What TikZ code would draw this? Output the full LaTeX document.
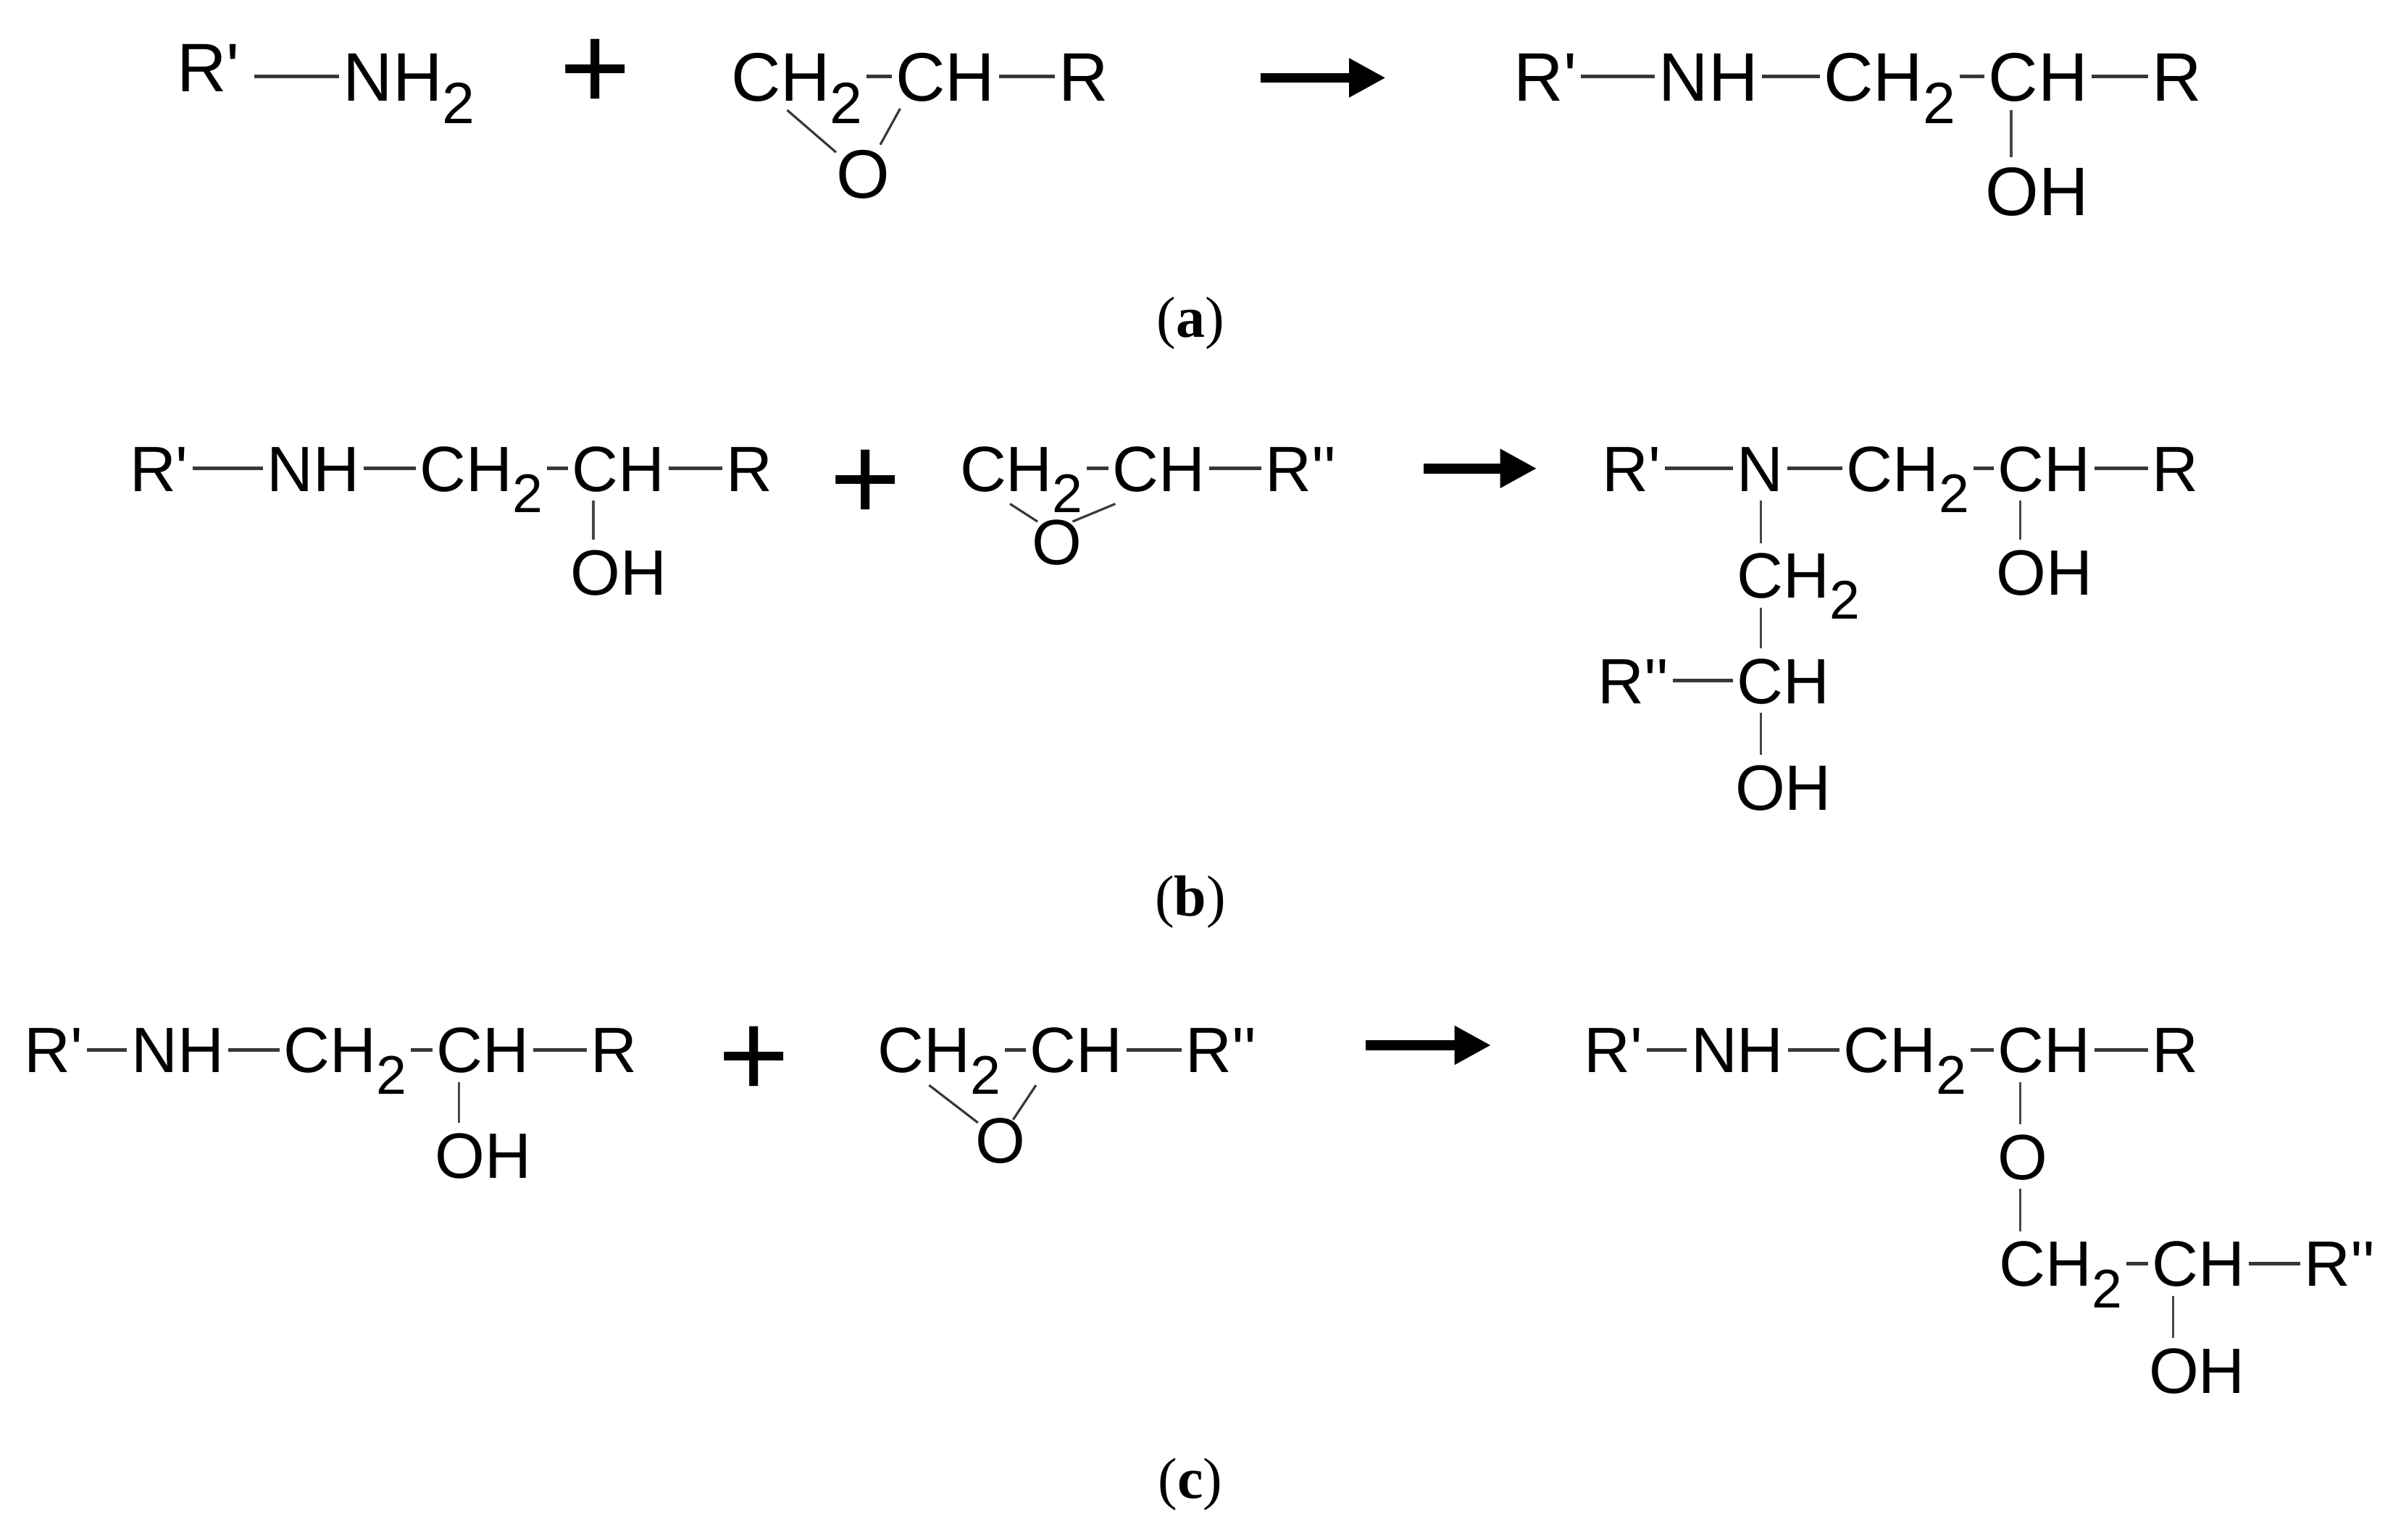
\documentclass[tikz,border=0pt]{standalone}
\usepackage{fontspec}
\usepackage{graphicx}
\usetikzlibrary{arrows.meta}
\newfontfamily\chemfont{Liberation Sans}
\newfontfamily\capfont{Liberation Serif}
\newcommand{\subtwo}{\raisebox{-0.33em}{\scalebox{0.85}[0.85]{2}}}
\tikzset{
  atomA/.style={anchor=base west,xshift=-1.2pt,inner sep=0pt,text height=32pt,text depth=0pt,font=\chemfont\fontsize{45}{50}\selectfont},
  atomB/.style={anchor=base west,xshift=-1.2pt,inner sep=0pt,text height=30pt,text depth=0pt,font=\chemfont\fontsize{42}{48}\selectfont},
  plussign/.style={inner sep=0pt,font=\chemfont\fontsize{80}{86}\selectfont},
  caplabel/.style={inner sep=0pt,font=\capfont\fontsize{38}{42}\selectfont},
  bond/.style={draw=black!78,line width=2.2pt,shorten >=2.5pt,shorten <=2.5pt},
  vbond/.style={draw=black!72,line width=1.6pt,shorten >=6pt,shorten <=6pt},
  ring/.style={draw=black!78,line width=1.5pt},
  rxn/.style={draw=black,line width=6.5pt,-{Triangle[length=24pt,width=24pt]}}
}
\begin{document}
\begin{tikzpicture}[x=1pt,y=-1pt]
\useasboundingbox[fill=white] (0,0) rectangle (1568,1009);
% --- (a)
\node[atomA] (a1) at (117,60) {R'};
\node[atomA] (a2) at (226,66) {NH\subtwo};
\node[plussign] (ap) at (390,49) {+};
\node[atomA] (a3) at (480,66) {CH\subtwo};
\node[atomA] (a4) at (588,66) {CH};
\node[atomA] (a5) at (695,66) {R};
\node[atomA] (a6) at (549,130) {O};
\draw[bond] (a1.east |- a2.west) ++(7pt,0) coordinate (a1b) (a1b) -- (a2.west);
\draw[bond] (a3.east) -- (a4.west);
\draw[bond] (a4.east) -- (a5.west);
\draw[ring] ([xshift=37pt,yshift=-6pt]a3.south west) -- ([xshift=0pt,yshift=-2pt]a6.north west);
\draw[ring] ([xshift=3pt,yshift=-5pt]a4.south west) -- ([xshift=29pt,yshift=3pt]a6.north west);
\coordinate (a7) at (826,51); \coordinate (a8) at (908,51);
\draw[rxn] (a7) -- (a8);
\node[atomA] (p1) at (993,66) {R'};
\node[atomA] (p2) at (1088,66) {NH};
\node[atomA] (p3) at (1196,66) {CH\subtwo};
\node[atomA] (p4) at (1304,66) {CH};
\node[atomA] (p5) at (1411,66) {R};
\node[atomA] (p6) at (1302,141) {OH};
\draw[bond] (p1.east) -- (p2.west);
\draw[bond] (p2.east) -- (p3.west);
\draw[bond] (p3.east) -- (p4.west);
\draw[bond] (p4.east) -- (p5.west);
\draw[vbond] ([xshift=15pt]p4.south west) -- ([xshift=15pt]p4.south west |- p6.north);
\node[caplabel] (capa) at (780,212) {(\textbf{a})};
% --- (b)
\node[atomB] (b1) at (86,322) {R'};
\node[atomB] (b2) at (176,322) {NH};
\node[atomB] (b3) at (276,322) {CH\subtwo};
\node[atomB] (b4) at (376,322) {CH};
\node[atomB] (b5) at (477,322) {R};
\node[atomB] (b6) at (375,390) {OH};
\draw[bond] (b1.east) -- (b2.west);
\draw[bond] (b2.east) -- (b3.west);
\draw[bond] (b3.east) -- (b4.west);
\draw[bond] (b4.east) -- (b5.west);
\draw[vbond] ([xshift=14pt]b4.south west) -- ([xshift=14pt]b4.south west |- b6.north);
\node[plussign] (bp) at (567,318) {+};
\node[atomB] (b7) at (630,322) {CH\subtwo};
\node[atomB] (b8) at (730,322) {CH};
\node[atomB] (b9) at (830,322) {R''};
\node[atomB] (b10) at (677,370) {O};
\draw[bond] (b7.east) -- (b8.west);
\draw[bond] (b8.east) -- (b9.west);
\draw[ring] ([xshift=33pt,yshift=-8pt]b7.south west) -- ([xshift=4pt,yshift=-2pt]b10.north west);
\draw[ring] ([xshift=2pt,yshift=-8pt]b8.south west) -- ([xshift=27pt,yshift=-2pt]b10.north west);
\coordinate (b11) at (933,307); \coordinate (b12) at (1007,307);
\draw[rxn] (b11) -- (b12);
\node[atomB] (q1) at (1051,322) {R'};
\node[atomB] (q2) at (1139,322) {N};
\node[atomB] (q3) at (1211,322) {CH\subtwo};
\node[atomB] (q4) at (1310,322) {CH};
\node[atomB] (q5) at (1411,322) {R};
\node[atomB] (q6) at (1309,390) {OH};
\node[atomB] (q7) at (1139,392) {CH\subtwo};
\node[atomB] (q8) at (1139,461) {CH};
\node[atomB] (q9) at (1048,461) {R''};
\node[atomB] (q10) at (1138,531) {OH};
\draw[bond] (q1.east) -- (q2.west);
\draw[bond] (q2.east) -- (q3.west);
\draw[bond] (q3.east) -- (q4.west);
\draw[bond] (q4.east) -- (q5.west);
\draw[vbond] ([xshift=15pt]q4.south west) -- ([xshift=15pt]q4.south west |- q6.north);
\draw[vbond] ([xshift=16pt]q2.south west) -- ([xshift=16pt]q2.south west |- q7.north);
\draw[vbond] ([xshift=16pt]q7.south west) -- ([xshift=16pt]q7.south west |- q8.north);
\draw[vbond] ([xshift=16pt]q8.south west) -- ([xshift=16pt]q8.south west |- q10.north);
\draw[bond] (q9.east) -- (q8.west);
\node[caplabel] (capb) at (780,591) {(\textbf{b})};
% --- (c)
\node[atomB] (c1) at (17,703) {R'};
\node[atomB] (c2) at (87,703) {NH};
\node[atomB] (c3) at (187,703) {CH\subtwo};
\node[atomB] (c4) at (287,703) {CH};
\node[atomB] (c5) at (388,703) {R};
\node[atomB] (c6) at (286,772) {OH};
\draw[bond] (c1.east) -- (c2.west);
\draw[bond] (c2.east) -- (c3.west);
\draw[bond] (c3.east) -- (c4.west);
\draw[bond] (c4.east) -- (c5.west);
\draw[vbond] ([xshift=15pt]c4.south west) -- ([xshift=15pt]c4.south west |- c6.north);
\node[plussign] (cp) at (494,696) {+};
\node[atomB] (c7) at (576,703) {CH\subtwo};
\node[atomB] (c8) at (676,703) {CH};
\node[atomB] (c9) at (778,703) {R''};
\node[atomB] (c10) at (640,762) {O};
\draw[bond] (c7.east) -- (c8.west);
\draw[bond] (c8.east) -- (c9.west);
\draw[ring] ([xshift=34pt,yshift=-8pt]c7.south west) -- ([xshift=2pt,yshift=-4pt]c10.north west);
\draw[ring] ([xshift=4pt,yshift=-8pt]c8.south west) -- ([xshift=25pt,yshift=-2pt]c10.north west);
\coordinate (c11) at (895,685); \coordinate (c12) at (977,685);
\draw[rxn] (c11) -- (c12);
\node[atomB] (r1) at (1039,703) {R'};
\node[atomB] (r2) at (1109,703) {NH};
\node[atomB] (r3) at (1209,703) {CH\subtwo};
\node[atomB] (r4) at (1310,703) {CH};
\node[atomB] (r5) at (1411,703) {R};
\node[atomB] (r6) at (1310,773) {O};
\node[atomB] (r7) at (1311,843) {CH\subtwo};
\node[atomB] (r8) at (1411,843) {CH};
\node[atomB] (r9) at (1511,843) {R''};
\node[atomB] (r10) at (1409,913) {OH};
\draw[bond] (r1.east) -- (r2.west);
\draw[bond] (r2.east) -- (r3.west);
\draw[bond] (r3.east) -- (r4.west);
\draw[bond] (r4.east) -- (r5.west);
\draw[vbond] ([xshift=15pt]r4.south west) -- ([xshift=15pt]r4.south west |- r6.north);
\draw[vbond] ([xshift=15pt]r6.south west) -- ([xshift=15pt]r6.south west |- r7.north);
\draw[bond] (r7.east) -- (r8.west);
\draw[bond] (r8.east) -- (r9.west);
\draw[vbond] ([xshift=14pt]r8.south west) -- ([xshift=14pt]r8.south west |- r10.north);
\node[caplabel] (capc) at (780,973) {(\textbf{c})};
\end{tikzpicture}
\end{document}
